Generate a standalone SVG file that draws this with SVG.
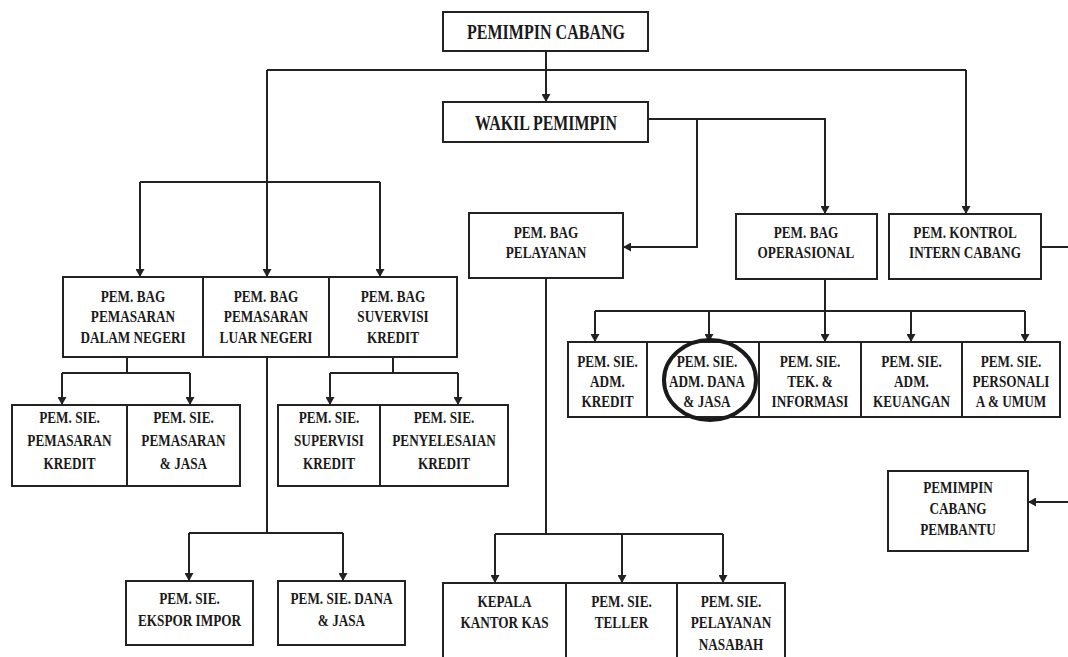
<svg xmlns="http://www.w3.org/2000/svg" width="1068" height="657" viewBox="0 0 1068 657">
<style>
.bg{fill:#ffffff}
.box{fill:#ffffff;stroke:#222;stroke-width:2}
.ln{fill:none;stroke:#222;stroke-width:2}
.arr{fill:none;stroke:#222;stroke-width:2;marker-end:url(#ah)}
.t{font-family:"Liberation Serif","Times New Roman",serif;font-weight:bold;font-size:16.5px;text-anchor:middle;fill:#1a1a1a}
.tt{font-family:"Liberation Serif","Times New Roman",serif;font-weight:bold;font-size:20px;text-anchor:middle;fill:#1a1a1a}
.ring{fill:none;stroke:#1a1a1a;stroke-width:4}
</style>
<defs>
<marker id="ah" markerWidth="8" markerHeight="9" refX="8" refY="4.5" orient="auto" markerUnits="userSpaceOnUse">
<path d="M0,0 L8,4.5 L0,9 z" fill="#222"/>
</marker>
</defs>
<rect class="bg" x="0" y="0" width="1068" height="657"/>

<g id="connectors">
<path class="arr" d="M546,51 V102"/>
<path class="ln" d="M267,70 H966"/>
<path class="arr" d="M267,70 V277"/>
<path class="ln" d="M140,182 H380"/>
<path class="arr" d="M140,182 V277"/>
<path class="arr" d="M380,182 V277"/>
<path class="arr" d="M966,70 V214"/>
<path class="arr" d="M648,119 H825 V214"/>
<path class="arr" d="M697,119 V247 H623"/>
<path class="ln" d="M825,279 V311"/>
<path class="ln" d="M595,311 H1025"/>
<path class="arr" d="M595,311 V342"/>
<path class="arr" d="M709,311 V342"/>
<path class="arr" d="M825,311 V342"/>
<path class="arr" d="M911,311 V342"/>
<path class="arr" d="M1025,311 V342"/>
<path class="ln" d="M1041,247 H1068"/>
<path class="arr" d="M1068,502 H1028"/>
<path class="ln" d="M127,357 V373"/>
<path class="ln" d="M62,373 H190"/>
<path class="arr" d="M62,373 V405"/>
<path class="arr" d="M190,373 V405"/>
<path class="ln" d="M393,357 V373"/>
<path class="ln" d="M330,373 H458"/>
<path class="arr" d="M330,373 V405"/>
<path class="arr" d="M458,373 V405"/>
<path class="ln" d="M267,357 V533"/>
<path class="ln" d="M189,533 H343"/>
<path class="arr" d="M189,533 V581"/>
<path class="arr" d="M343,533 V581"/>
<path class="ln" d="M546,278 V534"/>
<path class="ln" d="M495,534 H723"/>
<path class="arr" d="M495,534 V583"/>
<path class="arr" d="M622,534 V583"/>
<path class="arr" d="M723,534 V583"/>
</g>

<g id="pemimpin-cabang">
<rect class="box" x="443" y="12" width="205" height="39"/>
<text class="tt" x="546" y="38.5" textLength="158" lengthAdjust="spacingAndGlyphs">PEMIMPIN CABANG</text>
</g>
<g id="wakil-pemimpin">
<rect class="box" x="443" y="102" width="205" height="40"/>
<text class="tt" x="546" y="129.5" textLength="142" lengthAdjust="spacingAndGlyphs">WAKIL PEMIMPIN</text>
</g>
<g id="bag-pelayanan">
<rect class="box" x="469" y="213" width="154" height="65"/>
<g transform="translate(546,0) scale(0.8,1)">
<text class="t" x="0" y="238">PEM. BAG</text>
<text class="t" x="0" y="258">PELAYANAN</text>
</g>
</g>
<g id="bag-operasional">
<rect class="box" x="736" y="214" width="141" height="65"/>
<g transform="translate(806,0) scale(0.8,1)">
<text class="t" x="0" y="238">PEM. BAG</text>
<text class="t" x="0" y="258">OPERASIONAL</text>
</g>
</g>
<g id="kontrol-intern">
<rect class="box" x="889" y="214" width="152" height="65"/>
<g transform="translate(965,0) scale(0.8,1)">
<text class="t" x="0" y="238">PEM. KONTROL</text>
<text class="t" x="0" y="258">INTERN CABANG</text>
</g>
</g>
<g id="cabang-pembantu">
<rect class="box" x="888" y="471" width="140" height="80"/>
<g transform="translate(958,0) scale(0.8,1)">
<text class="t" x="0" y="493">PEMIMPIN</text>
<text class="t" x="0" y="514">CABANG</text>
<text class="t" x="0" y="535">PEMBANTU</text>
</g>
</g>

<g id="bag-pemasaran-dn">
<rect class="box" x="63" y="277" width="140" height="80"/>
<g transform="translate(133,0) scale(0.8,1)">
<text class="t" x="0" y="302">PEM. BAG</text>
<text class="t" x="0" y="322">PEMASARAN</text>
<text class="t" x="0" y="343">DALAM NEGERI</text>
</g>
</g>
<g id="bag-pemasaran-ln">
<rect class="box" x="203" y="277" width="126" height="80"/>
<g transform="translate(266,0) scale(0.8,1)">
<text class="t" x="0" y="302">PEM. BAG</text>
<text class="t" x="0" y="322">PEMASARAN</text>
<text class="t" x="0" y="343">LUAR NEGERI</text>
</g>
</g>
<g id="bag-suvervisi">
<rect class="box" x="329" y="277" width="128" height="80"/>
<g transform="translate(393,0) scale(0.8,1)">
<text class="t" x="0" y="302">PEM. BAG</text>
<text class="t" x="0" y="322">SUVERVISI</text>
<text class="t" x="0" y="343">KREDIT</text>
</g>
</g>

<g id="sie-pemasaran-kredit">
<rect class="box" x="12" y="405" width="115" height="81"/>
<g transform="translate(69.5,0) scale(0.8,1)">
<text class="t" x="0" y="423">PEM. SIE.</text>
<text class="t" x="0" y="446">PEMASARAN</text>
<text class="t" x="0" y="469">KREDIT</text>
</g>
</g>
<g id="sie-pemasaran-jasa">
<rect class="box" x="127" y="405" width="113" height="81"/>
<g transform="translate(183.5,0) scale(0.8,1)">
<text class="t" x="0" y="423">PEM. SIE.</text>
<text class="t" x="0" y="446">PEMASARAN</text>
<text class="t" x="0" y="469">&amp; JASA</text>
</g>
</g>
<g id="sie-supervisi-kredit">
<rect class="box" x="278" y="405" width="102" height="81"/>
<g transform="translate(329,0) scale(0.8,1)">
<text class="t" x="0" y="423">PEM. SIE.</text>
<text class="t" x="0" y="446">SUPERVISI</text>
<text class="t" x="0" y="469">KREDIT</text>
</g>
</g>
<g id="sie-penyelesaian-kredit">
<rect class="box" x="380" y="405" width="128" height="81"/>
<g transform="translate(444,0) scale(0.8,1)">
<text class="t" x="0" y="423">PEM. SIE.</text>
<text class="t" x="0" y="446">PENYELESAIAN</text>
<text class="t" x="0" y="469">KREDIT</text>
</g>
</g>

<g id="sie-ekspor-impor">
<rect class="box" x="126" y="581" width="127" height="64"/>
<g transform="translate(189.5,0) scale(0.8,1)">
<text class="t" x="0" y="604">PEM. SIE.</text>
<text class="t" x="0" y="626">EKSPOR IMPOR</text>
</g>
</g>
<g id="sie-dana-jasa">
<rect class="box" x="278" y="581" width="127" height="64"/>
<g transform="translate(341.5,0) scale(0.8,1)">
<text class="t" x="0" y="604">PEM. SIE. DANA</text>
<text class="t" x="0" y="626">&amp; JASA</text>
</g>
</g>

<g id="sie-adm-kredit">
<rect class="box" x="568" y="342" width="79" height="75"/>
<g transform="translate(607.5,0) scale(0.8,1)">
<text class="t" x="0" y="367">PEM. SIE.</text>
<text class="t" x="0" y="387">ADM.</text>
<text class="t" x="0" y="407">KREDIT</text>
</g>
</g>
<g id="sie-adm-dana-jasa">
<rect class="box" x="647" y="342" width="112" height="75"/>
<g transform="translate(707,0) scale(0.8,1)">
<text class="t" x="0" y="367">PEM. SIE.</text>
<text class="t" x="0" y="387">ADM. DANA</text>
<text class="t" x="0" y="407">&amp; JASA</text>
</g>
<ellipse class="ring" cx="710" cy="380" rx="46" ry="40"/>
</g>
<g id="sie-tek-informasi">
<rect class="box" x="759" y="342" width="102" height="75"/>
<g transform="translate(810,0) scale(0.8,1)">
<text class="t" x="0" y="367">PEM. SIE.</text>
<text class="t" x="0" y="387">TEK. &amp;</text>
<text class="t" x="0" y="407">INFORMASI</text>
</g>
</g>
<g id="sie-adm-keuangan">
<rect class="box" x="861" y="342" width="101" height="75"/>
<g transform="translate(911.5,0) scale(0.8,1)">
<text class="t" x="0" y="367">PEM. SIE.</text>
<text class="t" x="0" y="387">ADM.</text>
<text class="t" x="0" y="407">KEUANGAN</text>
</g>
</g>
<g id="sie-personalia-umum">
<rect class="box" x="962" y="342" width="98" height="75"/>
<g transform="translate(1011,0) scale(0.8,1)">
<text class="t" x="0" y="367">PEM. SIE.</text>
<text class="t" x="0" y="387">PERSONALI</text>
<text class="t" x="0" y="407">A &amp; UMUM</text>
</g>
</g>

<g id="kepala-kantor-kas">
<rect class="box" x="443" y="583" width="123" height="80"/>
<g transform="translate(504.5,0) scale(0.8,1)">
<text class="t" x="0" y="607">KEPALA</text>
<text class="t" x="0" y="628">KANTOR KAS</text>
</g>
</g>
<g id="sie-teller">
<rect class="box" x="566" y="583" width="111" height="80"/>
<g transform="translate(621.5,0) scale(0.8,1)">
<text class="t" x="0" y="607">PEM. SIE.</text>
<text class="t" x="0" y="628">TELLER</text>
</g>
</g>
<g id="sie-pelayanan-nasabah">
<rect class="box" x="677" y="583" width="108" height="80"/>
<g transform="translate(731,0) scale(0.8,1)">
<text class="t" x="0" y="607">PEM. SIE.</text>
<text class="t" x="0" y="628">PELAYANAN</text>
<text class="t" x="0" y="650">NASABAH</text>
</g>
</g>
</svg>
